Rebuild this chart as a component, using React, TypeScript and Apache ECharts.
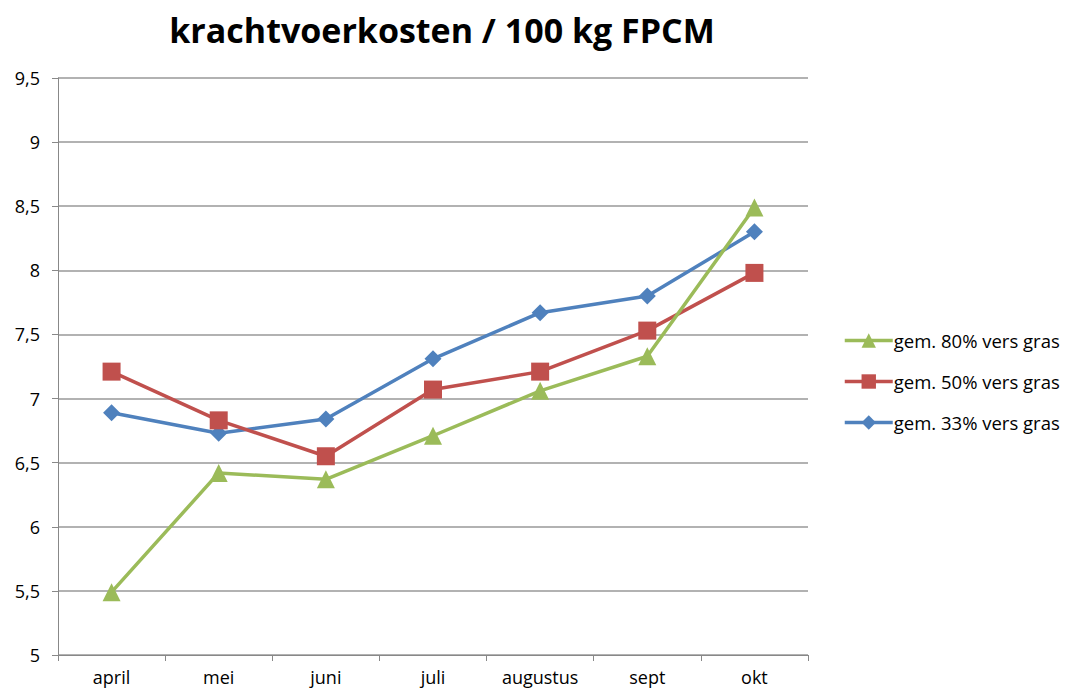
import React, { useEffect, useRef } from "react";
import * as echarts from "echarts";

const categories = ["april", "mei", "juni", "juli", "augustus", "sept", "okt"];
const gras80 = [5.49, 6.42, 6.37, 6.71, 7.06, 7.33, 8.49];
const gras50 = [7.21, 6.83, 6.55, 7.07, 7.21, 7.53, 7.98];
const gras33 = [6.89, 6.73, 6.84, 7.31, 7.67, 7.8, 8.3];
const seriesNames = ["gem. 80% vers gras", "gem. 50% vers gras", "gem. 33% vers gras"];

const FONT = "'Open Sans', 'Liberation Sans', sans-serif";

export default function App() {
  const ref = useRef<HTMLDivElement>(null);
  useEffect(() => {
    document.body.style.margin = "0";
    const chart = echarts.init(ref.current!, null, { renderer: "svg" });
    chart.setOption({
      animation: false,
      backgroundColor: "#ffffff",
      title: {
        text: "krachtvoerkosten / 100 kg FPCM",
        left: 437,
        top: 8,
        textAlign: "center",
        textStyle: { fontFamily: FONT, fontSize: 34, fontWeight: "bold", color: "#000" },
      },
      legend: {
        orient: "vertical",
        left: 838,
        top: 326,
        itemGap: 22,
        itemWidth: 48,
        itemHeight: 18,
        lineStyle: { width: 3.5 },
        data: [seriesNames[0], seriesNames[1], seriesNames[2]],
        textStyle: { fontFamily: FONT, fontSize: 18.5, color: "#000", padding: [0, 0, 0, -4] },
      },
      grid: { left: 58, right: 262, top: 78, bottom: 44, containLabel: false },
      xAxis: {
        type: "category",
        data: categories,
        boundaryGap: true,
        axisLine: { lineStyle: { color: "#888", width: 1 } },
        axisTick: { show: true, length: 6, lineStyle: { color: "#888" } },
        axisLabel: { fontFamily: FONT, fontSize: 18, color: "#000", margin: 13 },
      },
      yAxis: {
        type: "value",
        min: 5,
        max: 9.5,
        interval: 0.5,
        axisLine: { show: true, lineStyle: { color: "#888", width: 1 } },
        axisTick: { show: true, length: 6, lineStyle: { color: "#888" } },
        splitLine: { lineStyle: { color: "#999", width: 1.5 } },
        axisLabel: {
          fontFamily: FONT,
          fontSize: 18,
          color: "#000",
          margin: 18,
          formatter: (v: number) => String(v).replace(".", ","),
        },
      },
      series: [
        {
          name: seriesNames[0],
          type: "line",
          data: gras80,
          symbol: "triangle",
          symbolSize: 18,
          lineStyle: { color: "#9bbb59", width: 3.5 },
          itemStyle: { color: "#9bbb59" },
          z: 3,
        },
        {
          name: seriesNames[1],
          type: "line",
          data: gras50,
          symbol: "rect",
          symbolSize: 18,
          lineStyle: { color: "#c0504d", width: 3.5 },
          itemStyle: { color: "#c0504d" },
          z: 2,
        },
        {
          name: seriesNames[2],
          type: "line",
          data: gras33,
          symbol: "diamond",
          symbolSize: 17,
          lineStyle: { color: "#4f81bd", width: 3.5 },
          itemStyle: { color: "#4f81bd" },
          z: 1,
        },
      ],
    });
    return () => chart.dispose();
  }, []);
  return (
    <div
      ref={ref}
      style={{ position: "absolute", left: 0, top: 0, width: 1070, height: 699 }}
    />
  );
}
